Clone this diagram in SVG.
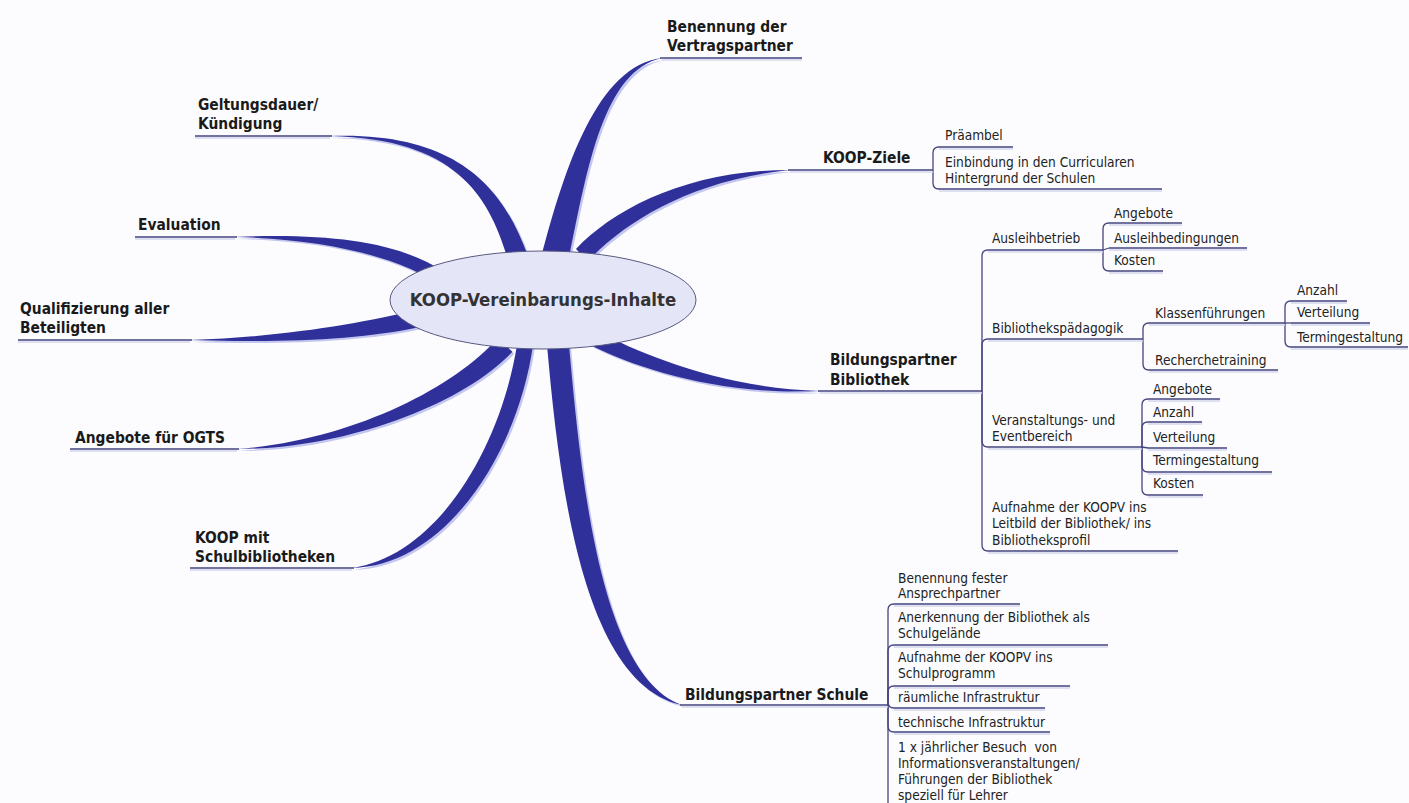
<svg xmlns="http://www.w3.org/2000/svg" xmlns:xlink="http://www.w3.org/1999/xlink" width="1409" height="803" viewBox="0 0 1409 803">
<style>
.bg{fill:#fcfcfe}
.sh{fill:#c3c6ee}
.br{fill:#30309a}
.ul{stroke:#45457e;stroke-width:1.4;fill:none}
.uls{stroke:#d4d6ec;stroke-width:1.4;fill:none}
.cn{stroke:#45457e;stroke-width:1.3;fill:none}
.mt{font-family:"DejaVu Sans","Open Sans",sans-serif;font-stretch:condensed;font-weight:700;font-size:15.4px;fill:#1a1a1a}
.st{font-family:"DejaVu Sans","Open Sans",sans-serif;font-stretch:condensed;font-size:13.6px;fill:#222}
.ct{font-family:"DejaVu Sans","Open Sans",sans-serif;font-stretch:condensed;font-weight:700;font-size:18.4px;fill:#333}
</style>
<defs>
<path id="b1" d="M541,258 C564,170 596.8,65.6 662,58 C603.2,70.4 587,170 569,258 Z"/>
<path id="b2" d="M576,249 C614,209 688,170 790,170 C692,180 626,221 588,261 Z"/>
<path id="b3" d="M598,332 C643,354 720,388 820,391 C720,396 637,368 592,346 Z"/>
<path id="b4" d="M547,345 C559,480 582,684 682,705 C600,676 581,478 569,345 Z"/>
<path id="b5" d="M517,345 C500,450 436,556 352,568 C446,566 518,452 533,345 Z"/>
<path id="b6" d="M497.6,338.3 C453,389 349,441 237,449 C351,449 467,401 512.4,351.7 Z"/>
<path id="b7" d="M420,309 C360,324 280,337 190,340 C280,343 360,340 420,327 Z"/>
<path id="b8" d="M443,271 C398,242 330,233 235,237 C330,239 402,258 447,289 Z"/>
<path id="b9" d="M527.5,254.8 C504.2,191.6 461.3,131.2 330,136 C458.7,138.8 489.8,198.4 508.5,261.2 Z"/>
</defs>
<rect class="bg" x="0" y="0" width="1409" height="803"/>

<g id="connectors">
<g transform="translate(2,2)" class="sh">
<use xlink:href="#b1"/><use xlink:href="#b2"/><use xlink:href="#b3"/><use xlink:href="#b4"/><use xlink:href="#b5"/><use xlink:href="#b6"/><use xlink:href="#b7"/><use xlink:href="#b8"/><use xlink:href="#b9"/>
</g>
<g class="br">
<use xlink:href="#b1"/><use xlink:href="#b2"/><use xlink:href="#b3"/><use xlink:href="#b4"/><use xlink:href="#b5"/><use xlink:href="#b6"/><use xlink:href="#b7"/><use xlink:href="#b8"/><use xlink:href="#b9"/>
</g>
<path class="cn" d="M933,170 V153 Q933,147 939,147"/>
<path class="cn" d="M933,170 V183 Q933,189 939,189"/>
<path class="cn" d="M982,391 V256 Q982,250 988,250"/>
<path class="cn" d="M982,391 V345 Q982,339 988,339"/>
<path class="cn" d="M982,391 V441 Q982,447 988,447"/>
<path class="cn" d="M982,391 V545 Q982,551 988,551"/>
<path class="cn" d="M1103,250 V229 Q1103,223 1109,223"/>
<path class="cn" d="M1103,250 L1109,248"/>
<path class="cn" d="M1103,250 V265 Q1103,271 1109,271"/>
<path class="cn" d="M1143,339 V329 Q1143,323 1149,323"/>
<path class="cn" d="M1143,339 V364 Q1143,370 1149,370"/>
<path class="cn" d="M1285,323 V307 Q1285,301 1291,301"/>
<path class="cn" d="M1285,323 H1291"/>
<path class="cn" d="M1285,323 V341 Q1285,347 1291,347"/>
<path class="cn" d="M1142,447 V405 Q1142,399 1148,399"/>
<path class="cn" d="M1142,447 V428 Q1142,422 1148,422"/>
<path class="cn" d="M1142,447 L1148,448"/>
<path class="cn" d="M1142,447 V466 Q1142,472 1148,472"/>
<path class="cn" d="M1142,447 V489 Q1142,495 1148,495"/>
<path class="cn" d="M888,705 V610 Q888,604 894,604"/>
<path class="cn" d="M888,705 V651 Q888,645 894,645"/>
<path class="cn" d="M888,705 V692 Q888,686 894,686"/>
<path class="cn" d="M888,705 V702 Q888,708 894,708"/>
<path class="cn" d="M888,705 V726 Q888,732 894,732"/>
<path class="cn" d="M888,705 V815"/>
</g>

<g id="center">
<ellipse cx="543" cy="300" rx="153" ry="49" fill="#e5e5f8" stroke="#5a5a80" stroke-width="1"/>
<text class="ct" x="543" y="306" text-anchor="middle">KOOP-Vereinbarungs-Inhalte</text>
</g>

<g id="n-benennung">
<line class="uls" x1="662" y1="60" x2="802" y2="60"/><line class="ul" x1="660" y1="58" x2="802" y2="58"/>
<text class="mt" x="667" y="32">Benennung der<tspan x="667" y="51">Vertragspartner</tspan></text>
</g>
<g id="n-geltung">
<line class="uls" x1="195" y1="138" x2="330" y2="138"/><line class="ul" x1="195" y1="136" x2="332" y2="136"/>
<text class="mt" x="198" y="110">Geltungsdauer/<tspan x="198" y="129">Kündigung</tspan></text>
</g>
<g id="n-evaluation">
<line class="uls" x1="135" y1="239" x2="235" y2="239"/><line class="ul" x1="135" y1="237" x2="237" y2="237"/>
<text class="mt" x="138" y="230">Evaluation</text>
</g>
<g id="n-qualifizierung">
<line class="uls" x1="18" y1="342" x2="190" y2="342"/><line class="ul" x1="18" y1="340" x2="192" y2="340"/>
<text class="mt" x="20" y="314">Qualifizierung aller<tspan x="20" y="333">Beteiligten</tspan></text>
</g>
<g id="n-ogts">
<line class="uls" x1="70" y1="451" x2="237" y2="451"/><line class="ul" x1="70" y1="449" x2="239" y2="449"/>
<text class="mt" x="75" y="443">Angebote für OGTS</text>
</g>
<g id="n-schulbib">
<line class="uls" x1="190" y1="570" x2="352" y2="570"/><line class="ul" x1="190" y1="568" x2="354" y2="568"/>
<text class="mt" x="195" y="543">KOOP mit<tspan x="195" y="562">Schulbibliotheken</tspan></text>
</g>
<g id="n-ziele">
<line class="uls" x1="790" y1="172" x2="933" y2="172"/><line class="ul" x1="788" y1="170" x2="933" y2="170"/>
<text class="mt" x="823" y="163">KOOP-Ziele</text>
</g>
<g id="n-praeambel">
<line class="uls" x1="939" y1="149" x2="1013" y2="149"/><line class="ul" x1="939" y1="147" x2="1013" y2="147"/>
<text class="st" x="945" y="140">Präambel</text>
</g>
<g id="n-einbindung">
<line class="uls" x1="939" y1="191" x2="1162" y2="191"/><line class="ul" x1="939" y1="189" x2="1162" y2="189"/>
<text class="st" x="945" y="167">Einbindung in den Curricularen<tspan x="945" y="183">Hintergrund der Schulen</tspan></text>
</g>
<g id="n-bibliothek">
<line class="uls" x1="820" y1="393" x2="982" y2="393"/><line class="ul" x1="818" y1="391" x2="982" y2="391"/>
<text class="mt" x="830" y="365">Bildungspartner<tspan x="830" y="385">Bibliothek</tspan></text>
</g>
<g id="n-ausleihbetrieb">
<line class="uls" x1="988" y1="252" x2="1103" y2="252"/><line class="ul" x1="988" y1="250" x2="1103" y2="250"/>
<text class="st" x="992" y="243">Ausleihbetrieb</text>
</g>
<g id="n-a-angebote">
<line class="uls" x1="1109" y1="225" x2="1182" y2="225"/><line class="ul" x1="1109" y1="223" x2="1182" y2="223"/>
<text class="st" x="1114" y="218">Angebote</text>
</g>
<g id="n-a-bedingungen">
<line class="uls" x1="1109" y1="250" x2="1247" y2="250"/><line class="ul" x1="1109" y1="248" x2="1247" y2="248"/>
<text class="st" x="1114" y="243">Ausleihbedingungen</text>
</g>
<g id="n-a-kosten">
<line class="uls" x1="1109" y1="273" x2="1163" y2="273"/><line class="ul" x1="1109" y1="271" x2="1163" y2="271"/>
<text class="st" x="1114" y="265">Kosten</text>
</g>
<g id="n-paedagogik">
<line class="uls" x1="988" y1="341" x2="1143" y2="341"/><line class="ul" x1="988" y1="339" x2="1143" y2="339"/>
<text class="st" x="992" y="333">Bibliothekspädagogik</text>
</g>
<g id="n-klassen">
<line class="uls" x1="1149" y1="325" x2="1285" y2="325"/><line class="ul" x1="1149" y1="323" x2="1285" y2="323"/>
<text class="st" x="1155" y="318">Klassenführungen</text>
</g>
<g id="n-k-anzahl">
<line class="uls" x1="1291" y1="303" x2="1347" y2="303"/><line class="ul" x1="1291" y1="301" x2="1347" y2="301"/>
<text class="st" x="1297" y="295">Anzahl</text>
</g>
<g id="n-k-verteilung">
<line class="uls" x1="1291" y1="325" x2="1370" y2="325"/><line class="ul" x1="1291" y1="323" x2="1370" y2="323"/>
<text class="st" x="1297" y="317">Verteilung</text>
</g>
<g id="n-k-termin">
<line class="uls" x1="1291" y1="349" x2="1408" y2="349"/><line class="ul" x1="1291" y1="347" x2="1408" y2="347"/>
<text class="st" x="1297" y="342">Termingestaltung</text>
</g>
<g id="n-recherche">
<line class="uls" x1="1149" y1="372" x2="1278" y2="372"/><line class="ul" x1="1149" y1="370" x2="1278" y2="370"/>
<text class="st" x="1155" y="365">Recherchetraining</text>
</g>
<g id="n-veranstaltung">
<line class="uls" x1="988" y1="449" x2="1142" y2="449"/><line class="ul" x1="988" y1="447" x2="1142" y2="447"/>
<text class="st" x="992" y="425">Veranstaltungs- und<tspan x="992" y="441">Eventbereich</tspan></text>
</g>
<g id="n-v-angebote">
<line class="uls" x1="1148" y1="401" x2="1220" y2="401"/><line class="ul" x1="1148" y1="399" x2="1220" y2="399"/>
<text class="st" x="1153" y="394">Angebote</text>
</g>
<g id="n-v-anzahl">
<line class="uls" x1="1148" y1="424" x2="1202" y2="424"/><line class="ul" x1="1148" y1="422" x2="1202" y2="422"/>
<text class="st" x="1153" y="417">Anzahl</text>
</g>
<g id="n-v-verteilung">
<line class="uls" x1="1148" y1="450" x2="1227" y2="450"/><line class="ul" x1="1148" y1="448" x2="1227" y2="448"/>
<text class="st" x="1153" y="442">Verteilung</text>
</g>
<g id="n-v-termin">
<line class="uls" x1="1148" y1="474" x2="1272" y2="474"/><line class="ul" x1="1148" y1="472" x2="1272" y2="472"/>
<text class="st" x="1153" y="465">Termingestaltung</text>
</g>
<g id="n-v-kosten">
<line class="uls" x1="1148" y1="497" x2="1203" y2="497"/><line class="ul" x1="1148" y1="495" x2="1203" y2="495"/>
<text class="st" x="1153" y="488">Kosten</text>
</g>
<g id="n-aufnahme-bib">
<line class="uls" x1="988" y1="553" x2="1178" y2="553"/><line class="ul" x1="988" y1="551" x2="1178" y2="551"/>
<text class="st" x="992" y="512">Aufnahme der KOOPV ins<tspan x="992" y="528">Leitbild der Bibliothek/ ins</tspan><tspan x="992" y="545">Bibliotheksprofil</tspan></text>
</g>
<g id="n-schule">
<line class="uls" x1="682" y1="707" x2="888" y2="707"/><line class="ul" x1="680" y1="705" x2="888" y2="705"/>
<text class="mt" x="685" y="700">Bildungspartner Schule</text>
</g>
<g id="n-s-benennung">
<line class="uls" x1="894" y1="606" x2="1020" y2="606"/><line class="ul" x1="894" y1="604" x2="1020" y2="604"/>
<text class="st" x="898" y="583">Benennung fester<tspan x="898" y="598">Ansprechpartner</tspan></text>
</g>
<g id="n-s-anerkennung">
<line class="uls" x1="894" y1="647" x2="1108" y2="647"/><line class="ul" x1="894" y1="645" x2="1108" y2="645"/>
<text class="st" x="898" y="622">Anerkennung der Bibliothek als<tspan x="898" y="638">Schulgelände</tspan></text>
</g>
<g id="n-s-aufnahme">
<line class="uls" x1="894" y1="688" x2="1070" y2="688"/><line class="ul" x1="894" y1="686" x2="1070" y2="686"/>
<text class="st" x="898" y="662">Aufnahme der KOOPV ins<tspan x="898" y="678">Schulprogramm</tspan></text>
</g>
<g id="n-s-raeumlich">
<line class="uls" x1="894" y1="710" x2="1045" y2="710"/><line class="ul" x1="894" y1="708" x2="1045" y2="708"/>
<text class="st" x="898" y="702">räumliche Infrastruktur</text>
</g>
<g id="n-s-technisch">
<line class="uls" x1="894" y1="734" x2="1050" y2="734"/><line class="ul" x1="894" y1="732" x2="1050" y2="732"/>
<text class="st" x="898" y="727">technische Infrastruktur</text>
</g>
<g id="n-s-besuch">
<text class="st" x="898" y="752" style="white-space:pre">1 x jährlicher Besuch  von<tspan x="898" y="768">Informationsveranstaltungen/</tspan><tspan x="898" y="784">Führungen der Bibliothek</tspan><tspan x="898" y="800">speziell für Lehrer</tspan></text>
</g>
</svg>
